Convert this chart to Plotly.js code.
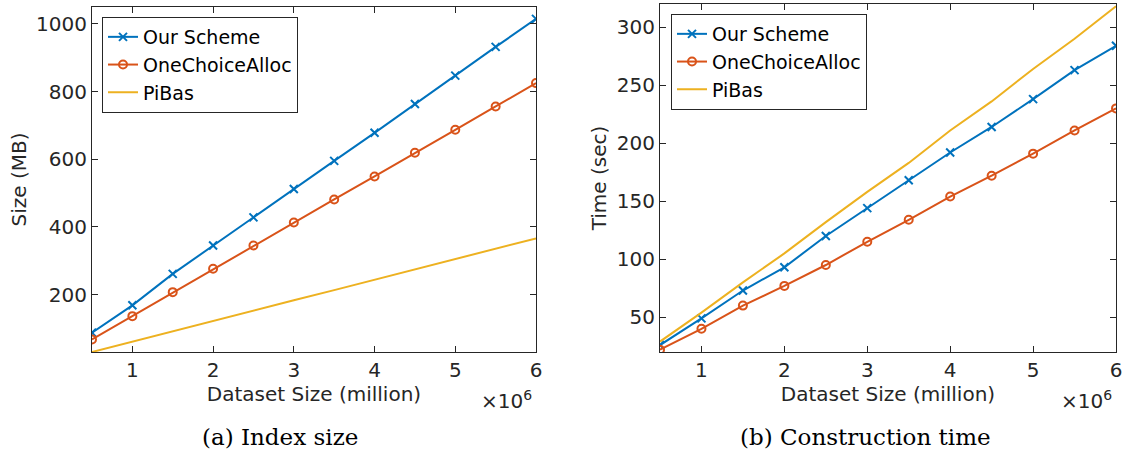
<!DOCTYPE html>
<html>
<head>
<meta charset="utf-8">
<script src="https://cdn.plot.ly/plotly-3.0.1.min.js"></script>
<style>html,body{margin:0;padding:0;background:#fff}#chart{width:1130px;height:457px}</style>
</head>
<body>
<div id="chart"></div>
<script>
// Dataset sizes
const datasetSize = [500000, 1000000, 1500000, 2000000, 2500000, 3000000, 3500000, 4000000, 4500000, 5000000, 5500000, 6000000];
const xTickVals = [1000000, 2000000, 3000000, 4000000, 5000000, 6000000];
const xTickText = ['1', '2', '3', '4', '5', '6'];

// (a) Index size (MB)
const sizeOurScheme = [87, 168, 261, 345, 428, 512, 595, 678, 763, 847, 932, 1015];
const sizeOneChoice = [67, 136, 207, 276, 345, 413, 481, 549, 619, 687, 756, 825];
const sizePiBas = [30, 61, 91, 122, 152, 183, 213, 244, 274, 305, 335, 366];
const sizeTicks = [200, 400, 600, 800, 1000];

// (b) Construction time (sec)
const timeOurScheme = [26, 49, 73, 93, 120, 144, 168, 192, 214, 238, 263, 284];
const timeOneChoice = [22, 40, 60, 77, 95, 115, 134, 154, 172, 191, 211, 230];
const timePiBas = [29, 54, 80, 105, 132, 158, 183, 211, 236, 264, 290, 318];
const timeTicks = [50, 100, 150, 200, 250, 300];

const seriesNames = ['Our Scheme', 'OneChoiceAlloc', 'PiBas'];
const colors = ['#0072BD', '#D95319', '#EDB120'];

const FONT = 'DejaVu Sans, sans-serif';
const SERIF = 'DejaVu Serif, serif';
const axColor = '#262626';

function mk(y, i, xa, ya, lg) {
  const t = {
    x: datasetSize, y: y, name: seriesNames[i], xaxis: xa, yaxis: ya, legend: lg,
    type: 'scatter', mode: i === 2 ? 'lines' : 'lines+markers',
    line: {color: colors[i], width: 2},
    showlegend: true
  };
  if (i === 0) t.marker = {symbol: 'x-thin-open', size: 8, color: colors[i], line: {color: colors[i], width: 2}};
  if (i === 1) t.marker = {symbol: 'circle-open', size: 8, color: colors[i], line: {color: colors[i], width: 2}};
  return t;
}

const data = [
  mk(sizeOurScheme, 0, 'x', 'y', 'legend'),
  mk(sizeOneChoice, 1, 'x', 'y', 'legend'),
  mk(sizePiBas, 2, 'x', 'y', 'legend'),
  mk(timeOurScheme, 0, 'x2', 'y2', 'legend2'),
  mk(timeOneChoice, 1, 'x2', 'y2', 'legend2'),
  mk(timePiBas, 2, 'x2', 'y2', 'legend2')
];

function xax(domain, anchor) {
  return {
    domain: domain, anchor: anchor, range: [500000, 6000000],
    tickvals: xTickVals, ticktext: xTickText,
    ticks: 'inside', ticklen: 6, tickcolor: axColor, tickwidth: 1,
    showline: true, linecolor: axColor, linewidth: 1, mirror: 'allticks',
    showgrid: false, zeroline: false,
    tickfont: {family: FONT, size: 20, color: '#262626'},
    title: {text: 'Dataset Size (million)', font: {family: FONT, size: 20, color: '#262626'}, standoff: 0}
  };
}
function yax(domain, anchor, range, ticks, title) {
  return {
    domain: domain, anchor: anchor, range: range, tickvals: ticks,
    ticks: 'inside', ticklen: 6, tickcolor: axColor, tickwidth: 1,
    showline: true, linecolor: axColor, linewidth: 1, mirror: 'allticks',
    showgrid: false, zeroline: false,
    tickfont: {family: FONT, size: 20, color: '#262626'},
    title: {text: title, font: {family: FONT, size: 20, color: '#262626'}, standoff: 4}
  };
}

const legendBase = {
  bgcolor: '#ffffff', bordercolor: axColor, borderwidth: 1,
  font: {family: FONT, size: 19, color: '#000'},
  xanchor: 'left', yanchor: 'top', tracegroupgap: 0, itemwidth: 30
};

const layout = {
  width: 1130, height: 457,
  margin: {l: 0, r: 0, t: 0, b: 0},
  paper_bgcolor: '#fff', plot_bgcolor: '#fff',
  xaxis: xax([92/1130, 536/1130], 'y'),
  yaxis: yax([1 - 352/457, 1 - 7/457], 'x', [30, 1050], sizeTicks, 'Size (MB)'),
  xaxis2: xax([660/1130, 1116/1130], 'y2'),
  yaxis2: yax([1 - 352/457, 1 - 4/457], 'x2', [20, 320], timeTicks, 'Time (sec)'),
  legend: Object.assign({}, legendBase, {x: 102/1130, y: 1 - 17/457}),
  legend2: Object.assign({}, legendBase, {x: 671/1130, y: 1 - 14/457}),
  showlegend: true,
  annotations: [
    {xref: 'paper', yref: 'paper', x: 534/1130, y: 1 - 400/457, xanchor: 'right', yanchor: 'middle',
     text: '×10<sup>6</sup>', showarrow: false, font: {family: FONT, size: 20, color: '#262626'}},
    {xref: 'paper', yref: 'paper', x: 1114/1130, y: 1 - 400/457, xanchor: 'right', yanchor: 'middle',
     text: '×10<sup>6</sup>', showarrow: false, font: {family: FONT, size: 20, color: '#262626'}},
    {xref: 'paper', yref: 'paper', x: 280/1130, y: 1 - 437/457, xanchor: 'center', yanchor: 'middle',
     text: '(a) Index size', showarrow: false, font: {family: SERIF, size: 23, color: '#000'}},
    {xref: 'paper', yref: 'paper', x: 865/1130, y: 1 - 437/457, xanchor: 'center', yanchor: 'middle',
     text: '(b) Construction time', showarrow: false, font: {family: SERIF, size: 23, color: '#000'}}
  ]
};

Plotly.newPlot('chart', data, layout, {displayModeBar: false, staticPlot: true});
</script>
</body>
</html>
